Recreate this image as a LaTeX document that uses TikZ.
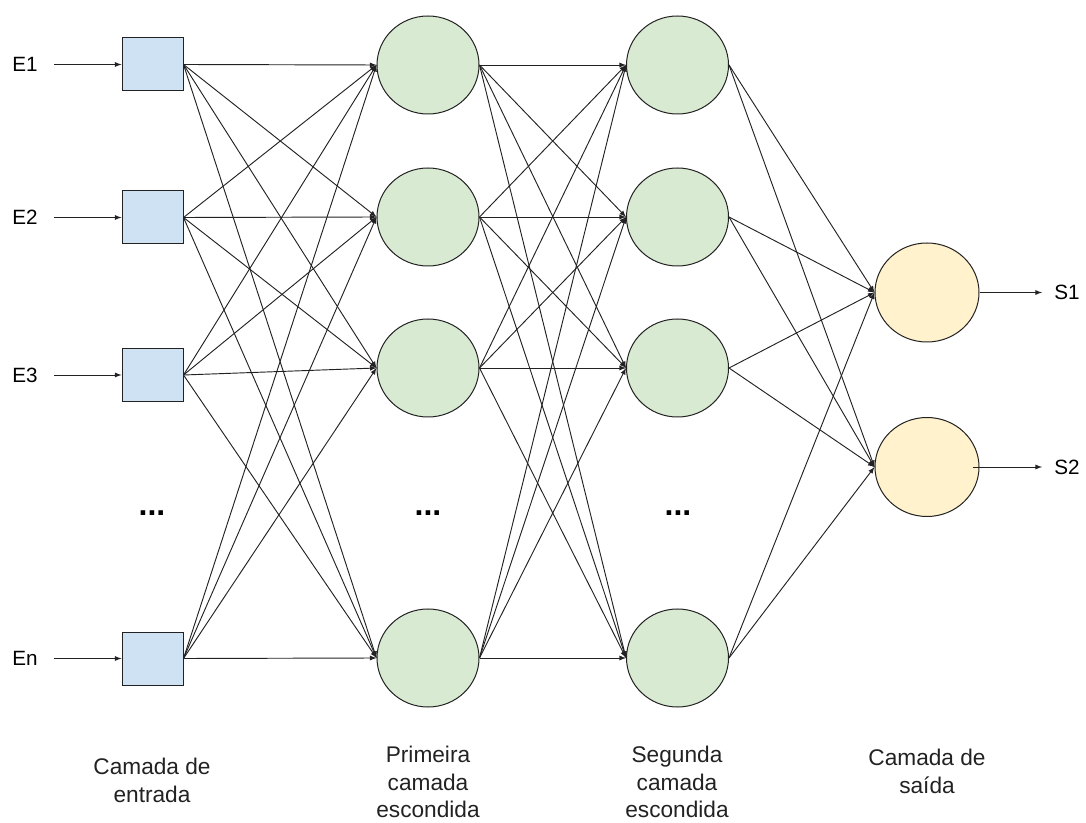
\documentclass[tikz,border=0pt]{standalone}
\usepackage{fontspec}
\setmainfont{Liberation Sans}
\usetikzlibrary{shapes.geometric}
\definecolor{entfill}{HTML}{CFE2F3}
\definecolor{escfill}{HTML}{D9EAD3}
\definecolor{saifill}{HTML}{FFF2CC}
\definecolor{traco}{HTML}{222222}

\begin{document}
\begin{tikzpicture}[x=0.75pt,y=-0.75pt,font=\fontsize{15.5pt}{18pt}\selectfont,
  quad/.style={draw=traco,line width=0.75pt,fill=entfill,minimum width=45.75pt,minimum height=39.75pt,inner sep=0},
  neur/.style={ellipse,draw=traco,line width=0.75pt,fill=escfill,minimum width=76.5pt,minimum height=73.5pt,inner sep=0},
  neurout/.style={neur,fill=saifill,minimum width=78pt,minimum height=74.25pt},
  seta/.style={-latex,traco,line width=0.7pt},
  camada/.style={anchor=north,align=center,inner sep=0,text=traco,font=\fontsize{17pt}{20.6pt}\selectfont},
  pontos/.style={font=\fontsize{24pt}{24pt}\selectfont\bfseries}]

\useasboundingbox (0,0) rectangle (1086,823);

% camada de entrada
\node[quad] (ent1) at (152.5,64.5) {};
\node[quad] (ent2) at (152.5,217.5) {};
\node[quad] (ent3) at (152.5,375) {};
\node[quad] (ent4) at (152.5,658.5) {};
\node[anchor=east,inner xsep=12pt] (lE1) at (54,64.5) {E1};
\node[anchor=east,inner xsep=12pt] (lE2) at (54,217.5) {E2};
\node[anchor=east,inner xsep=12pt] (lE3) at (54,375) {E3};
\node[anchor=east,inner xsep=12pt] (lE4) at (54,658.5) {En};
\draw[seta] (lE1.east) -- (ent1.west);
\draw[seta] (lE2.east) -- (ent2.west);
\draw[seta] (lE3.east) -- (ent3.west);
\draw[seta] (lE4.east) -- (ent4.west);

% camadas escondidas
\node[neur] (pri1) at (428,65) {};
\node[neur] (pri2) at (428,217) {};
\node[neur] (pri3) at (428,368) {};
\node[neur] (pri4) at (428,658) {};
\node[neur] (seg1) at (677.5,65) {};
\node[neur] (seg2) at (677.5,217) {};
\node[neur] (seg3) at (677.5,368) {};
\node[neur] (seg4) at (677.5,658) {};

% camada de saida
\node[neurout] (sai1) at (927,292.5) {};
\node[neurout] (sai2) at (927,467) {};
\node[anchor=west,inner xsep=9pt] (lS1) at (1042,292.5) {S1};
\node[anchor=west,inner xsep=9pt] (lS2) at (1042,467) {S2};
\draw[seta] (sai1.east) -- (lS1.west);
\draw[seta] ([xshift=-5pt]sai2.east) -- (lS2.west);

% ligacoes
\foreach \i in {1,...,4}
  \foreach \j in {1,...,4}
    \draw[seta] (ent\i.east) -- (pri\j.west);
\foreach \i in {1,...,4}
  \foreach \j in {1,...,4}
    \draw[seta] (pri\i.east) -- (seg\j.west);
\foreach \i in {1,...,4}
  \foreach \j in {1,2}
    \draw[seta] (seg\i.east) -- (sai\j.west);

\node[pontos] (pt1) at (152,513) {...};
\node[pontos] (pt2) at (428,513) {...};
\node[pontos] (pt3) at (678,513) {...};

\node[camada] (cEnt) at (152,758) {Camada de\\entrada};
\node[camada] (cPri) at (428,746) {Primeira\\camada\\escondida};
\node[camada] (cSeg) at (677,746) {Segunda\\camada\\escondida};
\node[camada] (cSai) at (927,749) {Camada de\\saída};

\end{tikzpicture}
\end{document}
